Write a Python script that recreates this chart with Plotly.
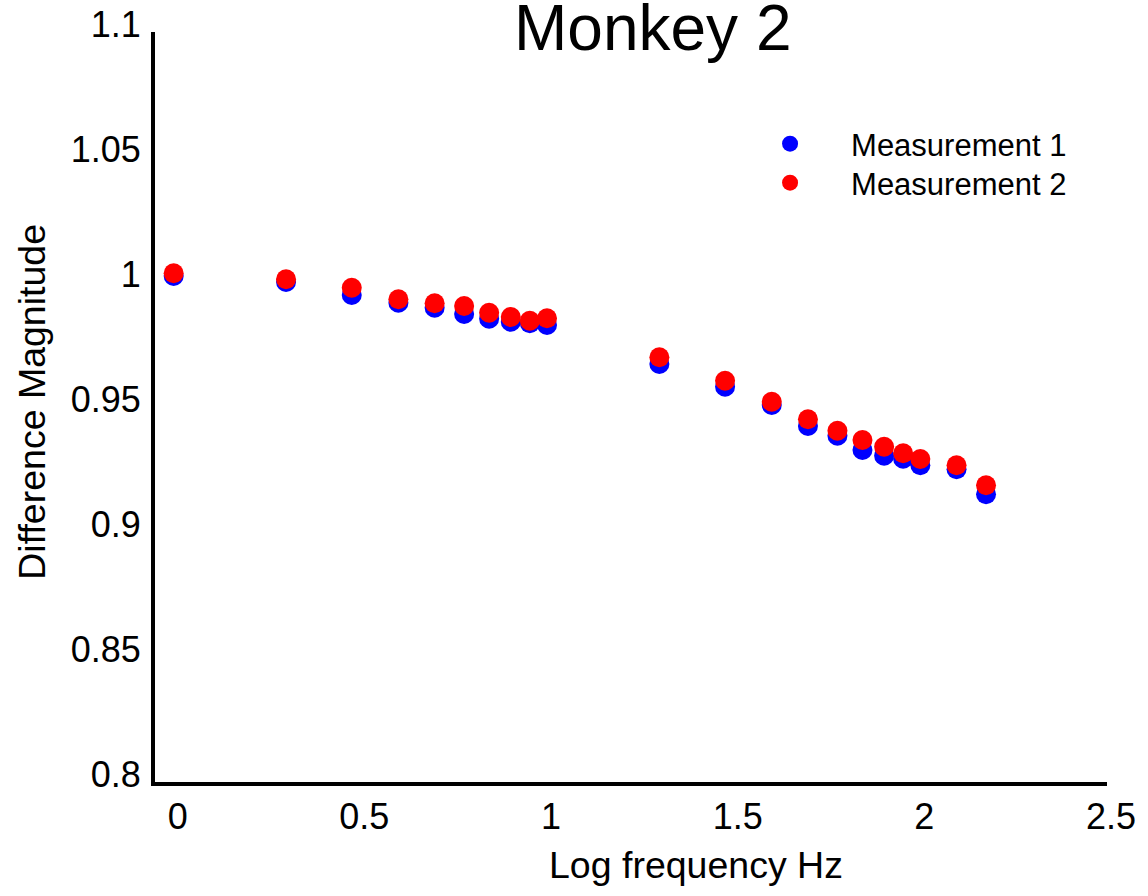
import plotly.graph_objects as go

# Log10 of stimulus frequency (Hz)
log_freq = [0.0, 0.301, 0.477, 0.602, 0.699, 0.778, 0.845, 0.903, 0.954, 1.0,
            1.301, 1.477, 1.602, 1.699, 1.778, 1.845, 1.903, 1.954, 2.0, 2.097, 2.176]

measurement_1 = [1.0024, 1.0000, 0.9948, 0.9917, 0.9897, 0.9872, 0.9853, 0.9841, 0.9835, 0.9828,
                 0.9672, 0.9581, 0.9508, 0.9424, 0.9385, 0.9328, 0.9305, 0.9293, 0.9267, 0.9251, 0.9151]

measurement_2 = [1.0035, 1.0011, 0.9977, 0.9931, 0.9915, 0.9904, 0.9877, 0.9860, 0.9845, 0.9855,
                 0.9699, 0.9605, 0.9521, 0.9451, 0.9405, 0.9368, 0.9341, 0.9315, 0.9292, 0.9267, 0.9187]

x_ticks = [0, 0.5, 1, 1.5, 2, 2.5]
x_tick_labels = ["0", "0.5", "1", "1.5", "2", "2.5"]
y_ticks = [0.8, 0.85, 0.9, 0.95, 1.0, 1.05, 1.1]
y_tick_labels = ["0.8", "0.85", "0.9", "0.95", "1", "1.05", "1.1"]

FONT = "Arial, Liberation Sans, Helvetica, sans-serif"

fig = go.Figure()
fig.add_trace(go.Scatter(
    x=log_freq, y=measurement_1, mode="markers", name="Measurement 1",
    marker=dict(color="#0000ff", size=20, line=dict(width=0)),
    legend="legend",
))
fig.add_trace(go.Scatter(
    x=log_freq, y=measurement_2, mode="markers", name="Measurement 2",
    marker=dict(color="#ff0000", size=20, line=dict(width=0)),
    legend="legend2",
))

legend_common = dict(
    xanchor="left", yanchor="top",
    font=dict(size=31, color="black", family=FONT),
    itemwidth=112, bgcolor="rgba(0,0,0,0)", borderwidth=0,
)

fig.update_layout(
    width=1148, height=896,
    margin=dict(l=155, r=41, t=32, b=114, autoexpand=False),
    paper_bgcolor="white", plot_bgcolor="white",
    font=dict(family=FONT, color="black", size=36),
    showlegend=True,
    legend=dict(x=0.603, y=0.8867, **legend_common),
    legend2=dict(x=0.603, y=0.8347, **legend_common),
    xaxis=dict(
        range=[-0.05, 2.5], showgrid=False, zeroline=False, automargin=False,
        showline=True, linecolor="black", linewidth=4,
        tickmode="array", tickvals=x_ticks, ticktext=x_tick_labels,
        ticks="", ticklabelshift=4,
        tickfont=dict(size=36, color="black", family=FONT),
    ),
    yaxis=dict(
        range=[0.8, 1.1], showgrid=False, zeroline=False, automargin=False,
        showline=True, linecolor="black", linewidth=4,
        tickmode="array", tickvals=y_ticks, ticktext=y_tick_labels,
        ticks="", ticklabelstandoff=3, ticklabelshift=-8,
        tickfont=dict(size=36, color="black", family=FONT),
    ),
    annotations=[
        dict(text="Monkey 2", x=0.523, y=1.005, xref="paper", yref="paper",
             xanchor="center", yanchor="middle", showarrow=False,
             font=dict(size=64, color="black", family=FONT)),
        dict(text="Log frequency Hz", x=(695.5 - 155) / 952, y=-0.1107,
             xref="paper", yref="paper", xanchor="center", yanchor="middle",
             showarrow=False, font=dict(size=37.5, color="black", family=FONT)),
        dict(text="Difference Magnitude", x=-0.1292, y=0.507,
             xref="paper", yref="paper", xanchor="center", yanchor="middle",
             textangle=-90, showarrow=False,
             font=dict(size=37.5, color="black", family=FONT)),
    ],
)

fig.write_html("out.html")
